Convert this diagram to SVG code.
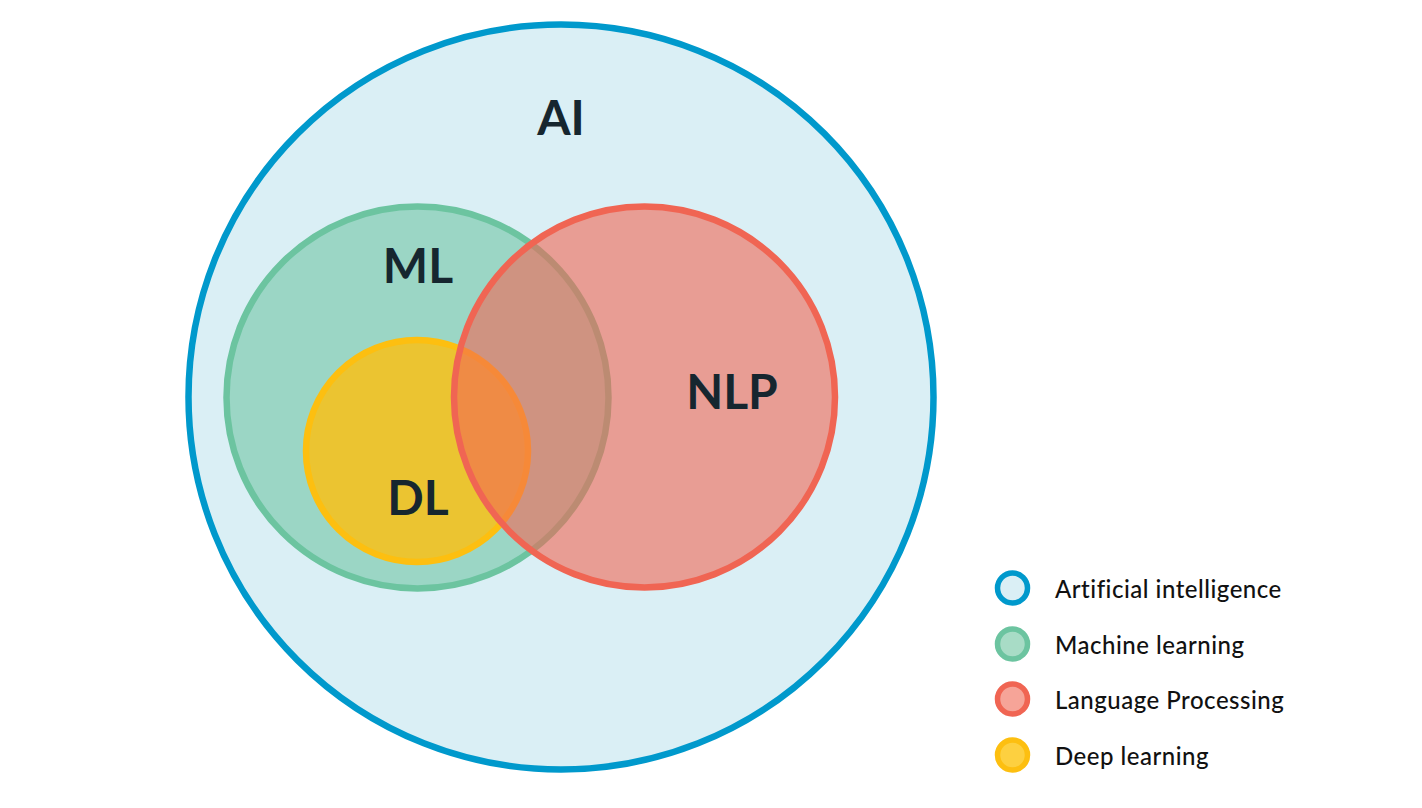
<svg xmlns="http://www.w3.org/2000/svg" width="1422" height="808" viewBox="0 0 1422 808">
<style>
.lbl{font-family:Lato,"Open Sans",sans-serif;font-weight:700;fill:#16262f;text-anchor:middle}
.big{font-size:48px}
.leg{font-family:Lato,"Open Sans",sans-serif;font-weight:500;font-size:24px;letter-spacing:0.5px;fill:#111}
</style>
<rect width="1422" height="808" fill="#ffffff"/>
<g id="ai">
<circle cx="561" cy="397" r="372.5" fill="#daeff5" stroke="#0099cc" stroke-width="6.5"/>
<text class="lbl big" x="561" y="135">AI</text>
</g>
<g id="ml">
<circle cx="417.5" cy="397.5" r="191" fill="#6cc4a0" fill-opacity="0.57" stroke="#6cc4a0" stroke-width="6.5"/>
<text class="lbl big" x="418" y="283">ML</text>
</g>
<g id="dl">
<circle cx="417" cy="451" r="111" fill="#fdbf10" fill-opacity="0.82" stroke="#fdbf10" stroke-width="6.5"/>
<text class="lbl big" x="418" y="515">DL</text>
</g>
<g id="nlp">
<circle cx="644.5" cy="397" r="190.5" fill="#f16554" fill-opacity="0.6" stroke="#f06553" stroke-width="6.5"/>
<text class="lbl big" x="732" y="409">NLP</text>
</g>
<g id="legend">
<circle cx="1012.5" cy="588" r="15" fill="#daeff5" stroke="#0099cc" stroke-width="5.5"/>
<text class="leg" x="1055" y="598">Artificial intelligence</text>
<circle cx="1012.5" cy="644" r="15" fill="#a8dcc6" stroke="#6cc4a0" stroke-width="5.5"/>
<text class="leg" x="1055" y="654">Machine learning</text>
<circle cx="1012.5" cy="699" r="15" fill="#f6a498" stroke="#f06553" stroke-width="5.5"/>
<text class="leg" x="1055" y="709">Language Processing</text>
<circle cx="1012.5" cy="755" r="15" fill="#fdd040" stroke="#fdbf10" stroke-width="5.5"/>
<text class="leg" x="1055" y="765">Deep learning</text>
</g>
</svg>
